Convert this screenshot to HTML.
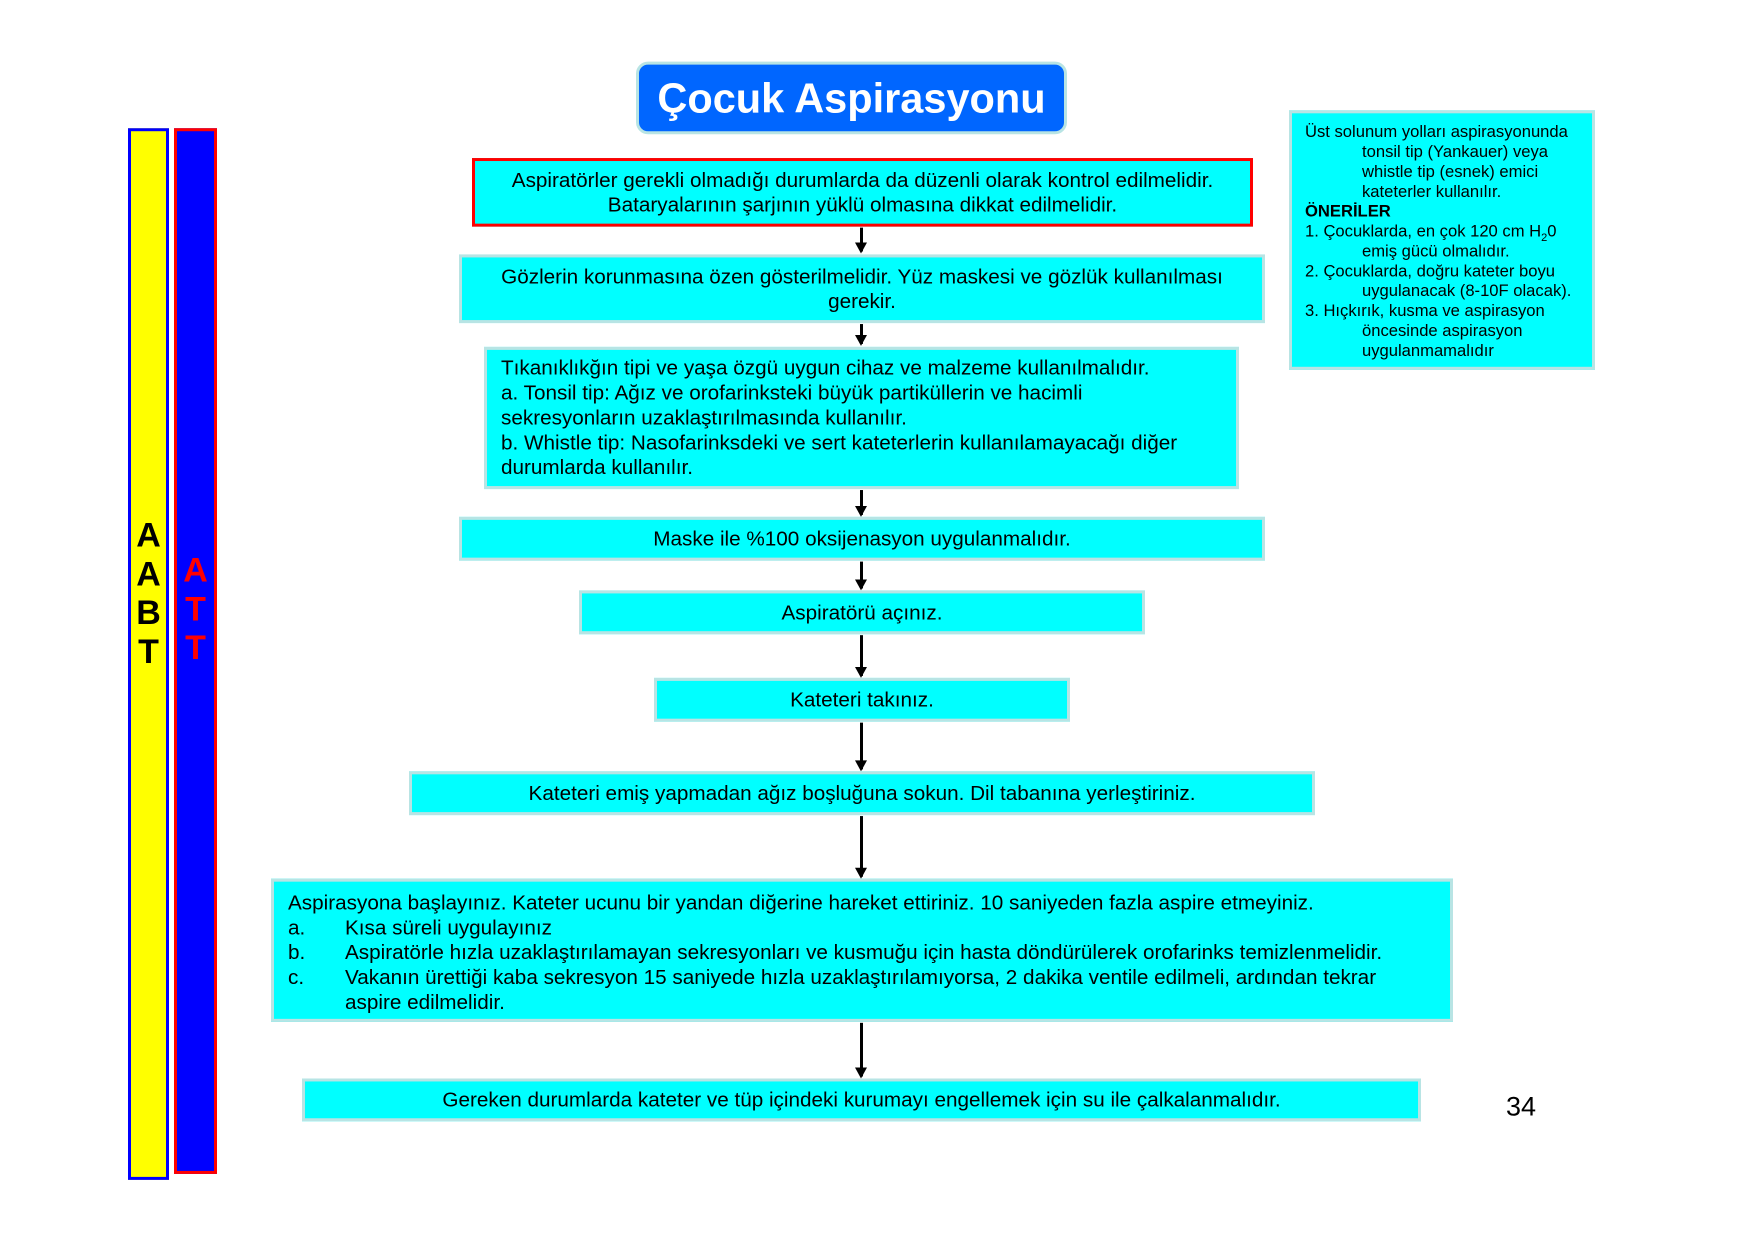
<!DOCTYPE html>
<html><head><meta charset="utf-8"><style>
body{margin:0;width:1755px;height:1240px;background:#fff;position:relative;font-family:"Liberation Sans",Arial,sans-serif;overflow:hidden}
#w{position:absolute;left:-4px;top:0;width:1755px;height:1240px;transform:scaleY(0.994);transform-origin:0 0}
.b{position:absolute;background:#00ffff;border:3px solid #b8e4e4;box-sizing:border-box;font-size:20.7px;color:#000;text-align:center;display:flex;align-items:center;justify-content:center;line-height:25px;white-space:nowrap}
.arr{position:absolute;left:864px;width:3px;background:#000}
.arr:after{content:"";position:absolute;left:-5px;bottom:-2px;border-left:6px solid transparent;border-right:6px solid transparent;border-top:11px solid #000}
.abs{position:absolute}
</style></head><body><div id="w">
<div class="abs" style="left:640px;top:62px;width:431px;height:73px;background:#0066ff;border:3px solid #b8e4e4;border-radius:12px;box-sizing:border-box;color:#fff;font-weight:bold;font-size:41.5px;display:flex;align-items:center;justify-content:center">Çocuk Aspirasyonu</div>

<div class="abs" style="left:132px;top:129px;width:41px;height:1058px;background:#ffff00;border:3px solid #0000ff;box-sizing:border-box"></div>
<div class="abs" style="left:178px;top:129px;width:43px;height:1052px;background:#0000ff;border:3px solid #ff0000;box-sizing:border-box"></div>
<div class="abs" style="left:132px;top:520px;width:41px;text-align:center;font-weight:bold;font-size:34px;line-height:39px">A<br>A<br>B<br>T</div>
<div class="abs" style="left:178px;top:555px;width:43px;text-align:center;font-weight:bold;font-size:34px;line-height:39px;color:#ff0000">A<br>T<br>T</div>

<div class="b" style="left:476px;top:159px;width:781px;height:69px;border-color:#ff0000">Aspiratörler gerekli olmadığı durumlarda da düzenli olarak kontrol edilmelidir.<br>Bataryalarının şarjının yüklü olmasına dikkat edilmelidir.</div>
<div class="arr" style="top:229px;height:24px"></div>
<div class="b" style="left:463px;top:256px;width:806px;height:69px">Gözlerin korunmasına özen gösterilmelidir. Yüz maskesi ve gözlük kullanılması<br>gerekir.</div>
<div class="arr" style="top:326px;height:20px"></div>
<div class="b" style="left:488px;top:349px;width:755px;height:143px;text-align:left;justify-content:flex-start;padding-left:14px">Tıkanıklıkğın tipi ve yaşa özgü uygun cihaz ve malzeme kullanılmalıdır.<br>a. Tonsil tip: Ağız ve orofarinksteki büyük partiküllerin ve hacimli<br>sekresyonların uzaklaştırılmasında kullanılır.<br>b. Whistle tip: Nasofarinksdeki ve sert kateterlerin kullanılamayacağı diğer<br>durumlarda kullanılır.</div>
<div class="arr" style="top:493px;height:25px"></div>
<div class="b" style="left:463px;top:520px;width:806px;height:44px">Maske ile %100 oksijenasyon uygulanmalıdır.</div>
<div class="arr" style="top:565px;height:27px"></div>
<div class="b" style="left:583px;top:594px;width:566px;height:44px">Aspiratörü açınız.</div>
<div class="arr" style="top:639px;height:41px"></div>
<div class="b" style="left:658px;top:682px;width:416px;height:44px">Kateteri takınız.</div>
<div class="arr" style="top:727px;height:47px"></div>
<div class="b" style="left:413px;top:776px;width:906px;height:44px">Kateteri emiş yapmadan ağız boşluğuna sokun. Dil tabanına yerleştiriniz.</div>
<div class="arr" style="top:821px;height:61px"></div>
<div class="b" style="left:275px;top:884px;width:1182px;height:144px;display:block;text-align:left;padding:9px 0 0 14px">
Aspirasyona başlayınız. Kateter ucunu bir yandan diğerine hareket ettiriniz. 10 saniyeden fazla aspire etmeyiniz.
<div style="position:relative;padding-left:57px"><span class="abs" style="left:0">a.</span>Kısa süreli uygulayınız</div>
<div style="position:relative;padding-left:57px"><span class="abs" style="left:0">b.</span>Aspiratörle hızla uzaklaştırılamayan sekresyonları ve kusmuğu için hasta döndürülerek orofarinks temizlenmelidir.</div>
<div style="position:relative;padding-left:57px"><span class="abs" style="left:0">c.</span>Vakanın ürettiği kaba sekresyon 15 saniyede hızla uzaklaştırılamıyorsa, 2 dakika ventile edilmeli, ardından tekrar<br>aspire edilmelidir.</div>
</div>
<div class="arr" style="top:1029px;height:54px"></div>
<div class="b" style="left:306px;top:1085px;width:1119px;height:43px">Gereken durumlarda kateter ve tüp içindeki kurumayı engellemek için su ile çalkalanmalıdır.</div>

<div class="abs" style="left:1293px;top:111px;width:306px;height:261px;background:#00ffff;border:3px solid #b8e4e4;box-sizing:border-box;font-size:16.6px;line-height:20px;padding:9px 0 0 13px;white-space:nowrap">
Üst solunum yolları aspirasyonunda<br>
<div style="padding-left:57px">tonsil tip (Yankauer) veya<br>whistle tip (esnek) emici<br>kateterler kullanılır.</div>
<b>ÖNERİLER</b><br>
1. Çocuklarda, en çok 120 cm H<sub style="font-size:11px;line-height:0">2</sub>0
<div style="padding-left:57px">emiş gücü olmalıdır.</div>
2. Çocuklarda, doğru kateter boyu
<div style="padding-left:57px">uygulanacak (8-10F olacak).</div>
3. Hıçkırık, kusma ve aspirasyon
<div style="padding-left:57px">öncesinde aspirasyon<br>uygulanmamalıdır</div>
</div>
<div class="abs" style="left:1510px;top:1098px;font-size:27px">34</div>
</div></body></html>
